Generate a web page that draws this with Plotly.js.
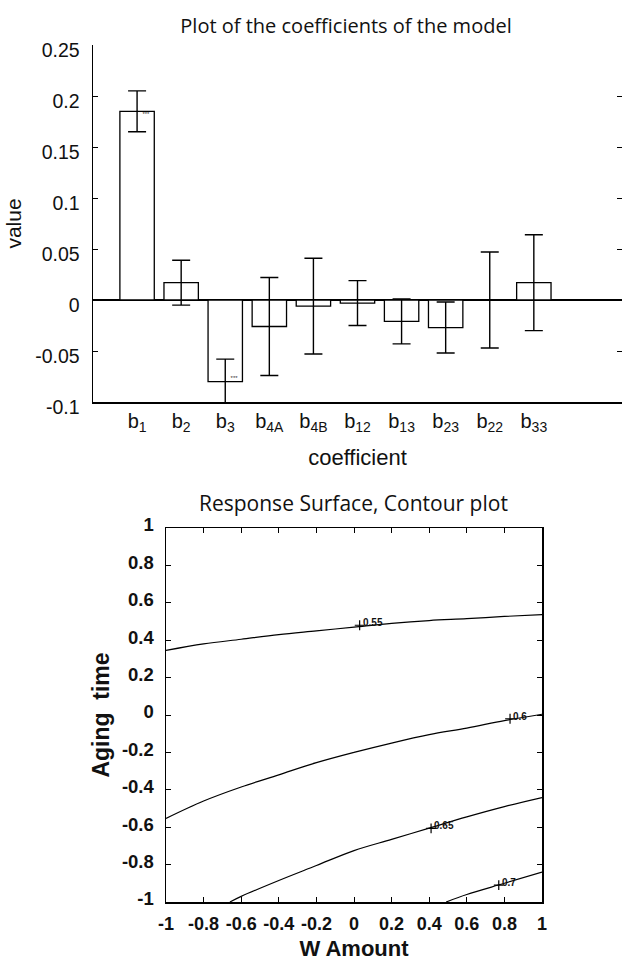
<!DOCTYPE html>
<html>
<head>
<meta charset="utf-8">
<script src="https://cdn.plot.ly/plotly-3.0.1.min.js"></script>
<style>html,body{margin:0;padding:0;background:#fff;}#chart{width:622px;height:961px;}</style>
</head>
<body>
<div id="chart"></div>
<script>
// ---- Top chart: model coefficients ----
const coefNames = ['b<sub>1</sub>','b<sub>2</sub>','b<sub>3</sub>','b<sub>4A</sub>','b<sub>4B</sub>','b<sub>12</sub>','b<sub>13</sub>','b<sub>23</sub>','b<sub>22</sub>','b<sub>33</sub>'];
const coefPos = [1,2,3,4,5,6,7,8,9,10];
const coefValues = [0.185, 0.017, -0.080, -0.026, -0.006, -0.003, -0.021, -0.027, 0.0, 0.017];
const coefErrors = [0.020, 0.022, 0.022, 0.048, 0.047, 0.022, 0.022, 0.025, 0.047, 0.047];
const coefTickVals = [0.25, 0.2, 0.15, 0.1, 0.05, 0, -0.05, -0.1];
const coefTickText = ['0.25','0.2','0.15','0.1','0.05','0','-0.05','-0.1'];
const topTickVals = [2,4,6,8,10,12];
const signifIdx = [0, 2];

// ---- Bottom chart: contour lines of the response surface ----
const contourLevels = ['0.55','0.6','0.65','0.7'];
const c055x = [-1,-0.8,-0.6,-0.4,-0.2,0,0.2,0.4,0.6,0.8,1];
const c055y = [0.345,0.38,0.405,0.43,0.45,0.47,0.49,0.505,0.515,0.527,0.537];
const c060x = [-1,-0.8,-0.6,-0.4,-0.2,0,0.2,0.4,0.6,0.8,1];
const c060y = [-0.553,-0.46,-0.385,-0.32,-0.255,-0.2,-0.15,-0.105,-0.07,-0.03,0.004];
const c065x = [-0.66,-0.6,-0.4,-0.2,0,0.2,0.4,0.6,0.8,1];
const c065y = [-1,-0.97,-0.885,-0.805,-0.725,-0.665,-0.605,-0.545,-0.49,-0.442];
const c070x = [0.49,0.6,0.8,1];
const c070y = [-1,-0.96,-0.9,-0.84];
const labelX = [0.03, 0.83, 0.41, 0.77];
const labelY = [0.48, -0.02, -0.606, -0.91];
const rsTickVals = [-1,-0.8,-0.6,-0.4,-0.2,0,0.2,0.4,0.6,0.8,1];
const rsTickText = ['-1','-0.8','-0.6','-0.4','-0.2','0','0.2','0.4','0.6','0.8','1'];

const W = 622, H = 961;
const px = v => v / W, py = v => 1 - v / H;

const arial = 'Liberation Sans, Arial, sans-serif';
const myriad = 'Open Sans, sans-serif';
const traces = [];
traces.push({
  type: 'bar', x: coefPos, y: coefValues, xaxis: 'x', yaxis: 'y',
  width: 0.78,
  marker: {color: 'white', line: {color: 'black', width: 1.3}},
  error_y: {type: 'data', array: coefErrors, visible: true, color: 'black', thickness: 1.4, width: 9},
  showlegend: false, hoverinfo: 'skip'
});
traces.push({
  type: 'scatter', mode: 'text', xaxis: 'x', yaxis: 'y',
  x: signifIdx.map(i => coefPos[i] + 0.2),
  y: signifIdx.map(i => coefValues[i]),
  text: signifIdx.map(() => '***'),
  textposition: signifIdx.map(i => coefValues[i] > 0 ? 'bottom center' : 'top center'),
  textfont: {size: 6, color: '#333', family: arial},
  showlegend: false, hoverinfo: 'skip', cliponaxis: false
});
const cx = [c055x, c060x, c065x, c070x], cy = [c055y, c060y, c065y, c070y];
for (let k = 0; k < 4; k++) {
  traces.push({type: 'scatter', mode: 'lines', x: cx[k], y: cy[k], xaxis: 'x2', yaxis: 'y2',
    line: {color: 'black', width: 1.2, shape: 'spline'}, showlegend: false, hoverinfo: 'skip'});
}
traces.push({
  type: 'scatter', mode: 'markers', x: labelX, y: labelY, xaxis: 'x2', yaxis: 'y2',
  marker: {symbol: 'cross-thin', size: 7, line: {color: 'black', width: 1.2}, color: 'black'},
  showlegend: false, hoverinfo: 'skip', cliponaxis: false
});

const annotations = [
  {text: 'Response Surface, Contour plot', xref: 'paper', yref: 'paper', x: px(353), y: py(503),
   xanchor: 'center', yanchor: 'middle', showarrow: false,
   font: {family: myriad, size: 21, color: '#111'}}
];
contourLevels.forEach((t, i) => annotations.push({
  text: t, xref: 'x2', yref: 'y2', x: labelX[i], y: labelY[i], xanchor: 'left', yanchor: 'bottom',
  xshift: 1, yshift: -5, showarrow: false,
  font: {family: arial, size: 10, color: '#111', weight: 'bold'}
}));

const layout = {
  width: W, height: H,
  margin: {l: 0, r: 0, t: 0, b: 0},
  paper_bgcolor: 'white', plot_bgcolor: 'white',
  showlegend: false,
  title: {text: 'Plot of the coefficients of the model', x: px(346), xanchor: 'center', y: py(26), yanchor: 'middle',
          font: {family: myriad, size: 20, color: '#111'}},
  xaxis: {domain: [px(93), 1], range: [0, 12], anchor: 'y',
          tickvals: coefPos, ticktext: coefNames, ticks: '', showgrid: false, zeroline: false,
          showline: true, linecolor: 'black', linewidth: 1.5,
          tickfont: {family: arial, size: 20, color: '#111'},
          title: {text: 'coefficient', font: {family: arial, size: 22, color: '#111'}, standoff: 16}},
  xaxis3: {overlaying: 'x', side: 'top', anchor: 'y', range: [0, 12], tickvals: topTickVals,
          ticks: 'inside', ticklen: 5, tickcolor: 'black', showticklabels: false, showgrid: false, zeroline: false,
          showline: true, linecolor: 'black', linewidth: 1.2},
  yaxis: {domain: [py(402), py(45)], range: [-0.1, 0.25], anchor: 'x',
          tickvals: coefTickVals, ticktext: coefTickText, ticks: 'inside', ticklen: 5, tickcolor: 'black',
          mirror: 'ticks', showgrid: false,
          zeroline: true, zerolinecolor: 'black', zerolinewidth: 1.3,
          showline: true, linecolor: 'black', linewidth: 1.5,
          ticklabelstandoff: 8, ticklabelshift: 5,
          tickfont: {family: arial, size: 19.5, color: '#111'},
          title: {text: 'value', font: {family: arial, size: 21, color: '#111'}, standoff: 8}},
  xaxis2: {domain: [px(166), px(542)], range: [-1, 1], anchor: 'y2',
          tickvals: rsTickVals, ticktext: rsTickText, ticks: 'inside', ticklen: 5, tickcolor: 'black',
          mirror: 'allticks', showline: true, linecolor: 'black', linewidth: 1.5, showgrid: false, zeroline: false,
          ticklabelstandoff: 5,
          tickfont: {family: arial, size: 18, color: '#111', weight: 'bold'},
          title: {text: 'W Amount', font: {family: arial, size: 22, color: '#111', weight: 'bold'}, standoff: 14}},
  yaxis2: {domain: [py(902), py(528)], range: [-1, 1], anchor: 'x2',
          tickvals: rsTickVals, ticktext: rsTickText, ticks: 'inside', ticklen: 5, tickcolor: 'black',
          mirror: 'allticks', showline: true, linecolor: 'black', linewidth: 1.5, showgrid: false, zeroline: false,
          ticklabelstandoff: 7, ticklabelshift: -3,
          tickfont: {family: arial, size: 18.5, color: '#111', weight: 'bold'},
          title: {text: 'Aging\u00a0 time', font: {family: arial, size: 23, color: '#111', weight: 'bold'}, standoff: 6}},
  annotations: annotations
};

Plotly.newPlot('chart', traces, layout, {staticPlot: true, displayModeBar: false});
</script>
</body>
</html>
